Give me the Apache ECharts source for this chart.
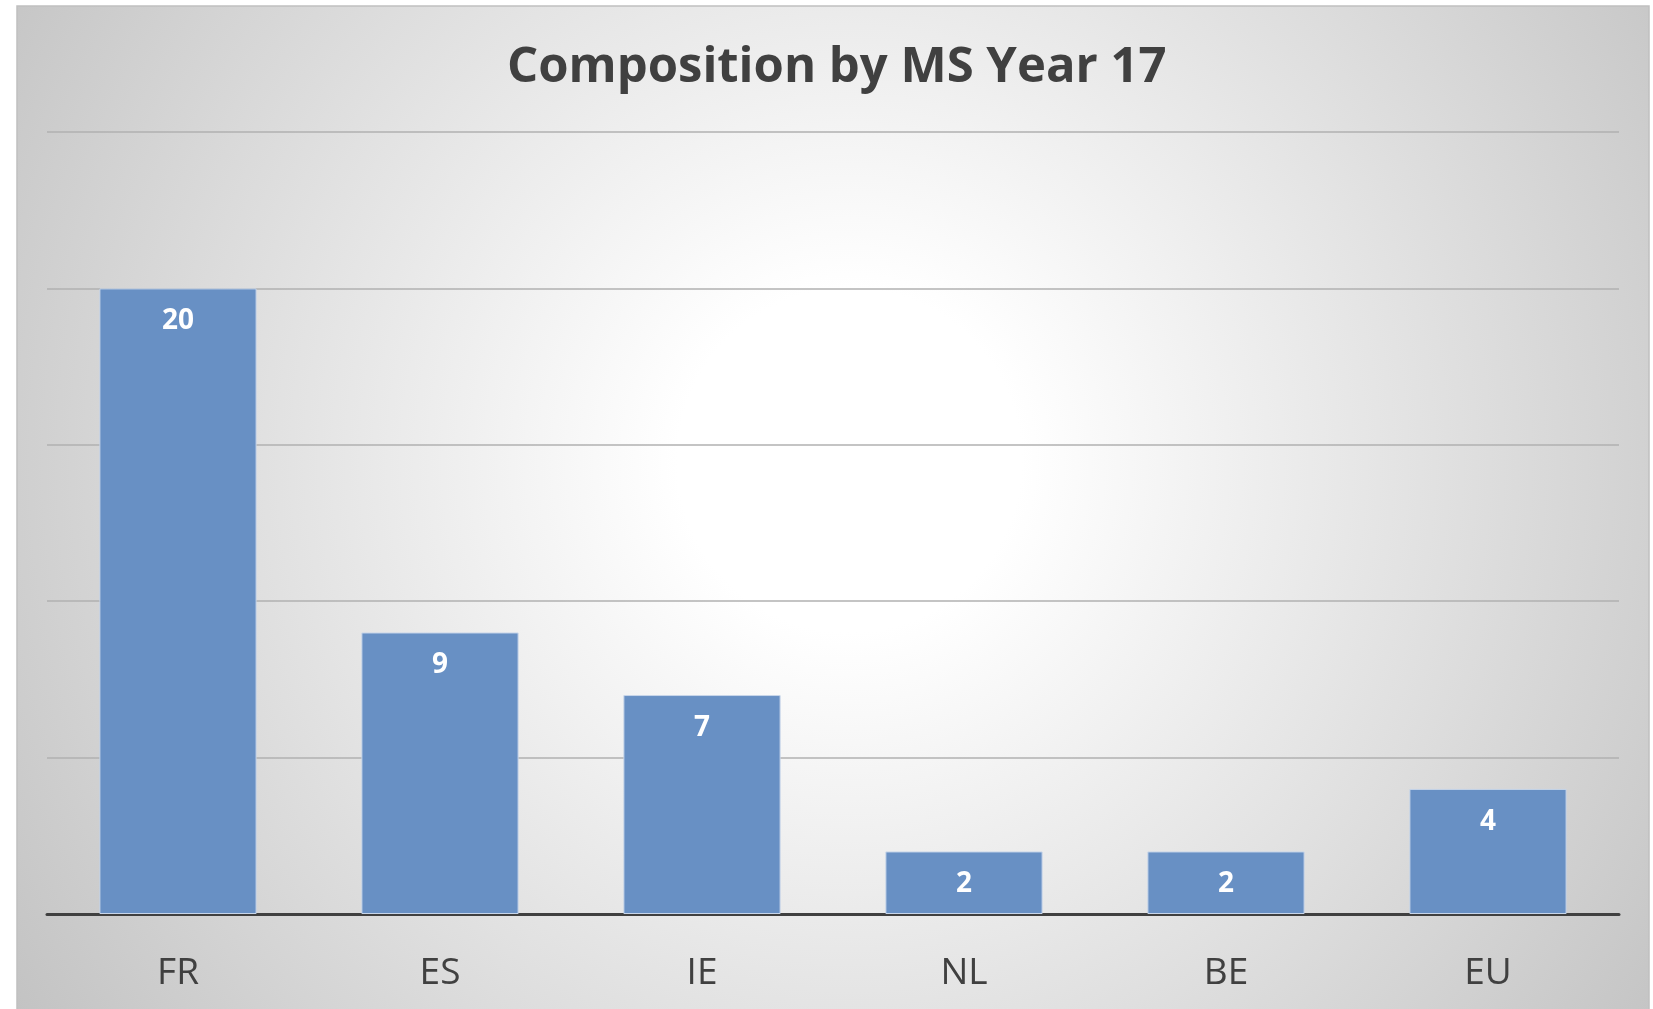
<!DOCTYPE html>
<html>
<head>
<meta charset="utf-8">
<script src="https://cdn.jsdelivr.net/npm/echarts@6/dist/echarts.min.js"></script>
<style>
  html, body { margin: 0; padding: 0; background: #ffffff; }
  #main { width: 1653px; height: 1009px; }
</style>
</head>
<body>
<div id="main"></div>
<script>
// Chart data
var chartTitle = "Composition by MS Year 17";
var categories = ["FR", "ES", "IE", "NL", "BE", "EU"];
var counts     = [20, 9, 7, 2, 2, 4];

var chart = echarts.init(document.getElementById("main"));

var option = {
    animation: false,
    backgroundColor: "#ffffff",
    graphic: [{
        // chart area with the radial fill and thin border
        type: "rect",
        z: -10,
        silent: true,
        shape: { x: 17, y: 6, width: 1632, height: 1010 },
        style: {
            fill: new echarts.graphic.RadialGradient(0.51, 0.45, 1.0, [
                { offset: 0,    color: "#ffffff" },
                { offset: 0.17, color: "#ffffff" },
                { offset: 1,    color: "#c2c2c2" }
            ]),
            stroke: "#c0c0c0",
            lineWidth: 1.5
        }
    }],
    title: {
        text: chartTitle,
        left: 502,
        top: 39,
        textStyle: {
            fontFamily: "Open Sans",
            fontWeight: "bold",
            fontSize: 49,
            color: "#404040"
        }
    },
    grid: { left: 47, right: 34, top: 132, bottom: 95 },
    xAxis: {
        type: "category",
        data: categories,
        axisLine: { lineStyle: { color: "#404040", width: 3 } },
        axisTick: { show: false },
        axisLabel: {
            margin: 41,
            fontFamily: "Open Sans",
            fontSize: 37,
            color: "#404040"
        }
    },
    yAxis: {
        type: "value",
        min: 0,
        max: 25,
        interval: 5,
        axisLine: { show: false },
        axisTick: { show: false },
        axisLabel: { show: false },
        splitLine: { lineStyle: { color: "#b0b0b0", width: 1.5 } }
    },
    series: [{
        type: "bar",
        data: counts,
        barCategoryGap: "40%",
        itemStyle: {
            color: "#6890c4",
            borderColor: "#c8d6ea",
            borderWidth: 1
        },
        label: {
            show: true,
            position: "insideTop",
            distance: 19,
            fontFamily: "Open Sans",
            fontWeight: "bold",
            fontSize: 28,
            color: "#ffffff"
        }
    }]
};

chart.setOption(option);
</script>
</body>
</html>
